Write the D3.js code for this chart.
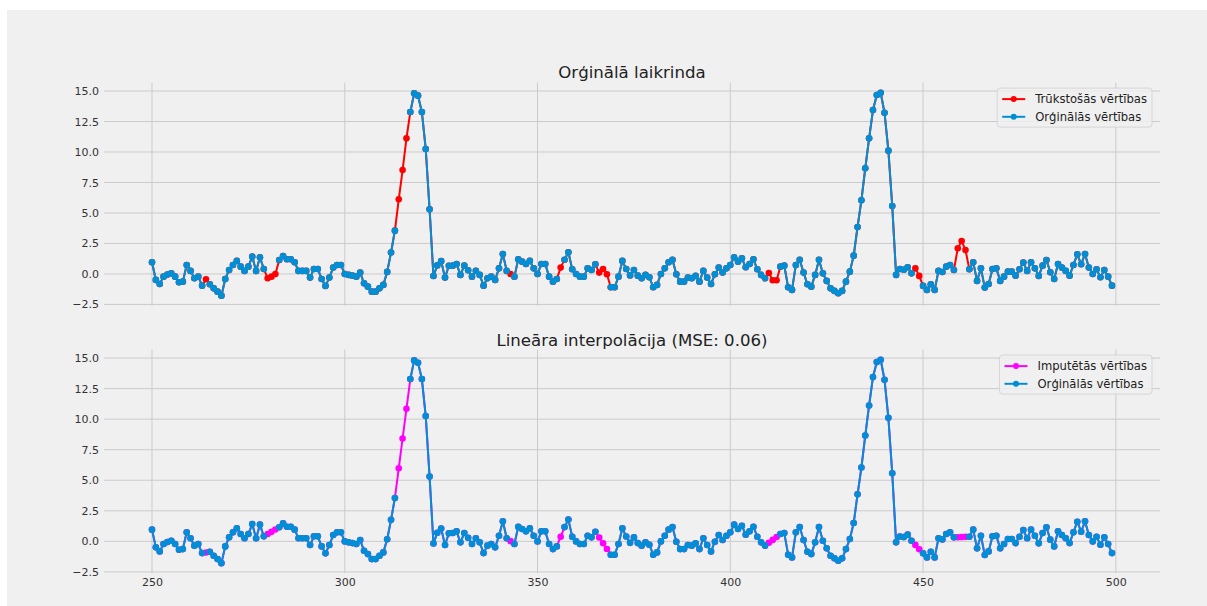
<!DOCTYPE html>
<html>
<head>
<meta charset="utf-8">
<script src="https://cdn.jsdelivr.net/npm/d3@7/dist/d3.min.js"></script>
<style>
  body { margin: 0; background: #ffffff; }
  svg { display: block; font-family: "DejaVu Sans", sans-serif; }
</style>
</head>
<body>
<svg id="chart" width="1207" height="606"></svg>
<script>
// Time index of the first observation
const startIndex = 250;

// Original series, one value per time step (250 … 499)
const originalValues = [
  0.96, -0.49, -0.82, -0.22, -0.05, 0.05, -0.22, -0.68, -0.63, 0.74,
  0.25, -0.35, -0.22, -0.96, -0.44, -0.85, -1.18, -1.45, -1.78, -0.41,
  0.33, 0.74, 1.07, 0.60, 0.25, 0.60, 1.42, 0.25, 1.37, 0.41,
  -0.35, -0.22, 0.00, 1.15, 1.47, 1.20, 1.20, 0.96, 0.25, 0.25,
  0.25, -0.30, 0.41, 0.41, -0.41, -0.98, -0.30, 0.52, 0.74, 0.74,
  0.00, -0.08, -0.14, -0.22, 0.11, -0.77, -1.04, -1.45, -1.45, -1.18,
  -0.90, 0.17, 1.76, 3.55, 6.12, 8.52, 11.12, 13.28, 14.81, 14.62,
  13.28, 10.25, 5.30, -0.17, 0.70, 1.05, -0.30, 0.67, 0.68, 0.82,
  -0.08, 0.68, 0.30, -0.22, 0.25, -0.08, -0.96, -0.35, -0.22, -0.49,
  0.46, 1.64, 0.25, 0.00, -0.22, 1.20, 1.01, 0.82, 1.07, 0.46,
  0.00, 0.82, 0.82, -0.22, -0.63, -0.41, 0.52, 1.17, 1.78, 0.38,
  0.00, -0.22, -0.22, 0.46, 0.33, 0.79, 0.11, 0.41, -0.03, -1.09,
  -1.09, -0.22, 1.07, 0.40, -0.12, 0.33, -0.14, -0.35, -0.08, -0.27,
  -1.09, -0.90, 0.00, 0.46, 0.96, 1.17, -0.03, -0.63, -0.63, -0.30,
  -0.35, -0.16, -0.63, 0.25, -0.30, -0.82, -0.03, 0.52, 0.11, 0.46,
  0.74, 1.37, 1.01, 1.28, 0.55, 0.82, 1.20, 0.38, -0.08, -0.35,
  0.08, -0.52, -0.52, 0.60, 0.68, -1.09, -1.31, 0.74, 1.17, 0.11,
  -0.85, -1.04, -0.08, 1.17, 0.05, -0.57, -1.18, -1.39, -1.58, -1.39,
  -0.63, 0.19, 1.50, 3.85, 6.04, 8.66, 11.12, 13.44, 14.67, 14.86,
  13.22, 10.11, 5.57, -0.08, 0.40, 0.35, 0.55, 0.05, 0.46, -0.16,
  -0.98, -1.31, -0.85, -1.31, 0.25, 0.16, 0.60, 0.74, 0.33, 2.10,
  2.70, 1.97, 0.38, 0.96, -0.57, 0.46, -1.12, -0.82, 0.41, 0.46,
  -0.57, -0.22, 0.19, 0.19, -0.14, 0.38, 0.93, 0.25, 0.96, 0.46,
  -0.16, 0.68, 1.15, 0.14, -0.41, 0.82, 0.52, 0.25, -0.14, 0.74,
  1.61, 0.79, 1.64, 0.52, 0.00, 0.38, -0.27, 0.33, -0.22, -0.96
];

// Time steps whose values were removed
const missingIndex = [264, 280, 281, 282, 314, 315, 316, 343, 356, 366, 367, 368,
                      410, 411, 412, 448, 449, 459, 460, 461];

// Values filled in by linear interpolation at those steps
const imputedValues = [-0.91, 0.60, 0.78, 0.97, 5.98, 8.42, 10.85, 0.02, 0.38, 0.32, -0.15, -0.62,
                       -0.11, 0.12, 0.36, -0.29, -0.64, 0.34, 0.35, 0.37];

const xTickValues = [250, 300, 350, 400, 450, 500];
const yTickValues = [-2.5, 0, 2.5, 5, 7.5, 10, 12.5, 15];

const panelTitles = ["Orģinālā laikrinda", "Lineāra interpolācija (MSE: 0.06)"];
const legendLabelsTop = ["Trūkstošās vērtības", "Orģinālās vērtības"];
const legendLabelsBottom = ["Imputētās vērtības", "Orģinālās vērtības"];

const colors = { original: "#008fd5", missing: "#ff0000", imputed: "#ff00ff" };

// ---- derived series ----
const missingSet = new Set(missingIndex);
const fullSeries = originalValues.map((v, k) => ({ x: startIndex + k, y: v }));
const gappedSeries = fullSeries.map(d => ({ x: d.x, y: missingSet.has(d.x) ? null : d.y }));
const imputedMap = new Map(missingIndex.map((t, k) => [t, imputedValues[k]]));
const imputedSeries = fullSeries.map(d => ({ x: d.x, y: imputedMap.has(d.x) ? imputedMap.get(d.x) : d.y }));

// ---- layout ----
const svg = d3.select("#chart");
svg.append("rect").attr("x", 7).attr("y", 10).attr("width", 1200).attr("height", 596).attr("fill", "#f0f0f0");

const plotLeft = 104, plotRight = 1160;
const panels = [
  { top: 82.6, bottom: 305.8, title: panelTitles[0], titleY: 78,
    under: { data: fullSeries, color: colors.missing }, labels: legendLabelsTop, xLabels: false },
  { top: 349.6, bottom: 573.3, title: panelTitles[1], titleY: 346,
    under: { data: imputedSeries, color: colors.imputed }, labels: legendLabelsBottom, xLabels: true }
];

const xExt = d3.extent(fullSeries, d => d.x);
const xPad = (xExt[1] - xExt[0]) * 0.05;
const x = d3.scaleLinear().domain([xExt[0] - xPad, xExt[1] + xPad]).range([plotLeft, plotRight]);

panels.forEach(p => {
  const yExt = d3.extent(p.under.data, d => d.y);
  const yPad = (yExt[1] - yExt[0]) * 0.05;
  const y = d3.scaleLinear().domain([yExt[0] - yPad, yExt[1] + yPad]).range([p.bottom, p.top]);

  const g = svg.append("g");

  // grid
  g.append("g").selectAll("line").data(yTickValues).join("line")
    .attr("x1", plotLeft).attr("x2", plotRight)
    .attr("y1", d => y(d)).attr("y2", d => y(d))
    .attr("stroke", "#cbcbcb").attr("stroke-width", 1);
  g.append("g").selectAll("line").data(xTickValues).join("line")
    .attr("x1", d => x(d)).attr("x2", d => x(d))
    .attr("y1", p.top).attr("y2", p.bottom)
    .attr("stroke", "#cbcbcb").attr("stroke-width", 1);

  // y tick labels
  const yAxis = d3.axisLeft(y).tickValues(yTickValues).tickFormat(d3.format(".1f")).tickSize(0).tickPadding(5);
  const ya = g.append("g").attr("transform", `translate(${plotLeft},0)`).call(yAxis);
  ya.select(".domain").remove();
  ya.selectAll("text").attr("font-size", 11).attr("fill", "#333").attr("font-family", "DejaVu Sans");

  if (p.xLabels) {
    const xAxis = d3.axisBottom(x).tickValues(xTickValues).tickFormat(d3.format("d")).tickSize(0).tickPadding(5);
    const xa = g.append("g").attr("transform", `translate(0,${p.bottom})`).call(xAxis);
    xa.select(".domain").remove();
    xa.selectAll("text").attr("font-size", 11).attr("fill", "#333").attr("font-family", "DejaVu Sans");
  }

  // title
  g.append("text").attr("x", (plotLeft + plotRight) / 2).attr("y", p.titleY)
    .attr("text-anchor", "middle").attr("font-size", 16.6).attr("fill", "#222").text(p.title);

  const line = d3.line().defined(d => d.y !== null).x(d => x(d.x)).y(d => y(d.y));

  const drawSeries = (data, color) => {
    g.append("path").datum(data).attr("d", line)
      .attr("fill", "none").attr("stroke", color).attr("stroke-width", 2).attr("stroke-linejoin", "round");
    g.append("g").selectAll("circle").data(data.filter(d => d.y !== null)).join("circle")
      .attr("cx", d => x(d.x)).attr("cy", d => y(d.y)).attr("r", 3.3).attr("fill", color);
  };

  drawSeries(p.under.data, p.under.color);
  drawSeries(gappedSeries, colors.original);

  // legend
  const lg = g.append("g");
  const box = lg.append("rect");
  const entries = [p.under.color, colors.original];
  const texts = entries.map((c, k) => lg.append("text")
    .attr("y", p.top + 16.5 + k * 17.7 + 4).attr("font-size", 11.6).attr("fill", "#222").text(p.labels[k]));
  const maxW = d3.max(texts, t => t.node().getComputedTextLength());
  const boxRight = plotRight - 8;
  const textStart = boxRight - 5 - maxW;
  texts.forEach(t => t.attr("x", textStart));
  entries.forEach((c, k) => {
    const cy = p.top + 16.5 + k * 17.7;
    lg.append("line").attr("x1", textStart - 33).attr("x2", textStart - 10).attr("y1", cy).attr("y2", cy)
      .attr("stroke", c).attr("stroke-width", 2);
    lg.append("circle").attr("cx", textStart - 21.5).attr("cy", cy).attr("r", 3).attr("fill", c);
  });
  box.attr("x", textStart - 38).attr("y", p.top + 5.5).attr("width", maxW + 43).attr("height", 39)
    .attr("rx", 3).attr("fill", "#f0f0f0").attr("fill-opacity", 0.8).attr("stroke", "#d6d6d6").attr("stroke-width", 1);
});
</script>
</body>
</html>
